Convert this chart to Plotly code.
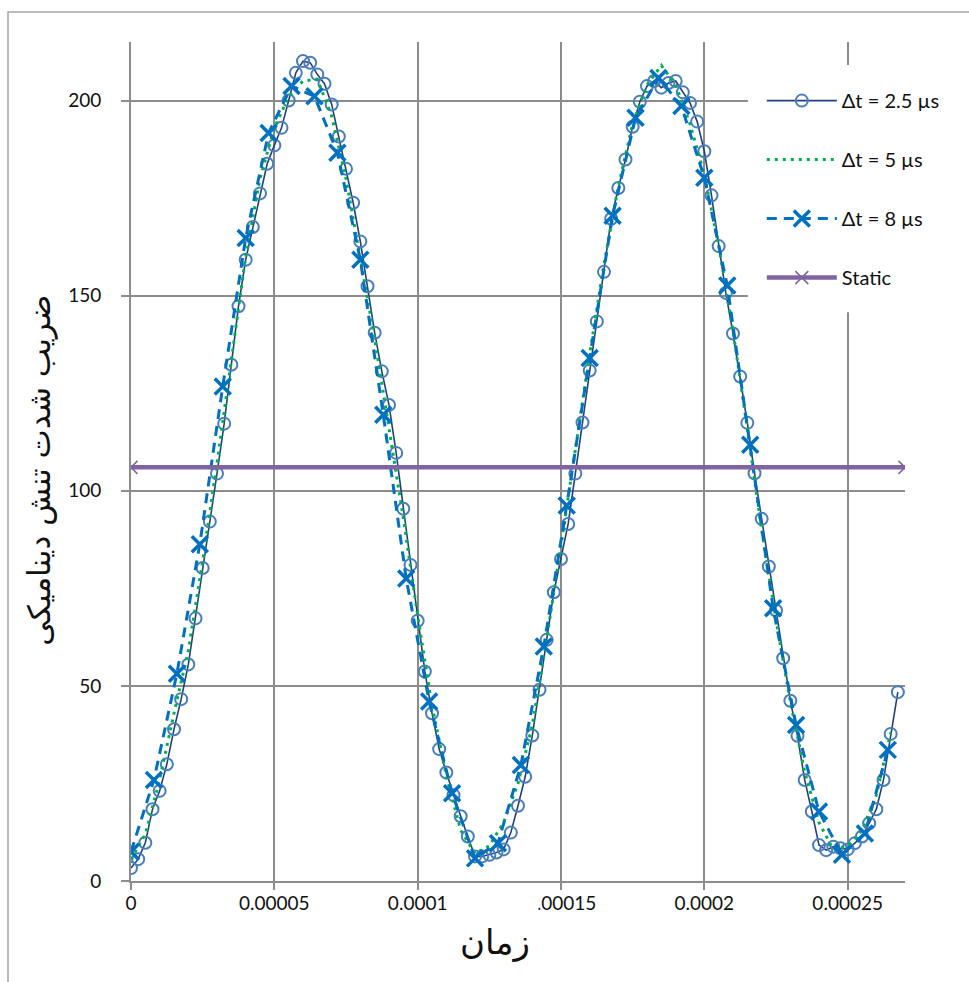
import plotly.graph_objects as go

# time step of each run (seconds)
DT_FINE = 2.5e-6
DT_MID = 5e-6
DT_COARSE = 8e-6

# dynamic stress intensity factor, dt = 2.5 us
k_dt_2_5 = [
    3.3, 5.6, 9.8, 18.4, 23.1, 29.9, 38.9, 46.6, 55.5, 67.3,
    80.2, 92.1, 104.4, 117.2, 132.3, 147.3, 159.2, 167.6, 176.2, 183.8,
    188.5, 193.0, 200.0, 207.1, 210.1, 209.7, 206.7, 204.3, 199.0, 190.8,
    182.5, 173.8, 163.9, 152.4, 140.5, 130.6, 122.0, 109.7, 95.4, 81.0,
    66.7, 53.7, 43.0, 33.8, 27.8, 22.0, 16.6, 11.4, 6.3, 6.3,
    6.7, 7.3, 8.1, 12.4, 19.3, 26.7, 37.3, 49.0, 61.8, 74.0,
    82.5, 91.5, 104.4, 117.5, 130.8, 143.4, 156.1, 169.7, 177.6, 184.9,
    193.3, 199.7, 203.7, 205.0, 203.3, 204.5, 205.0, 202.1, 199.4, 194.6,
    187.0, 175.7, 162.7, 150.7, 140.3, 129.3, 117.4, 104.5, 92.8, 80.6,
    69.3, 57.1, 46.2, 37.2, 25.9, 17.8, 9.2, 7.9, 8.8, 8.4,
    8.1, 9.7, 11.4, 14.8, 18.4, 25.9, 37.7, 48.4,
]

# dt = 5 us
k_dt_5 = [
    5.5, 12.0, 26.0, 43.0, 59.0, 82.0, 107.0, 134.0, 160.0, 180.0,
    193.0, 201.0, 205.0, 205.5, 196.0, 180.0, 160.0, 139.0, 116.0, 93.0,
    68.0, 45.0, 27.0, 13.0, 7.0, 9.0, 15.0, 25.0, 40.0, 62.0,
    86.0, 111.0, 135.0, 158.0, 178.0, 194.0, 204.0, 209.0, 204.0, 194.0,
    181.0, 163.0, 141.0, 116.0, 90.0, 67.0, 46.0, 28.0, 15.0, 8.0,
    9.0, 13.0, 22.0, 38.0,
]

# dt = 8 us
k_dt_8 = [
    7.5, 25.9, 53.1, 86.3, 126.7, 164.8, 191.7, 203.7, 201.1, 186.6,
    159.2, 119.5, 77.5, 46.0, 22.5, 5.8, 9.7, 29.7, 60.1, 96.2,
    134.0, 170.5, 195.6, 205.8, 198.6, 180.2, 152.6, 111.8, 69.9, 40.0,
    17.8, 6.7, 12.2, 33.6,
]

# static solution
static_t = [0.0, 0.00027]
static_k = [106.0, 106.0]

t_2_5 = [i * DT_FINE for i in range(len(k_dt_2_5))]
t_5 = [i * DT_MID for i in range(len(k_dt_5))]
t_8 = [i * DT_COARSE for i in range(len(k_dt_8))]

x_ticks = [0, 0.00005, 0.0001, 0.00015, 0.0002, 0.00025]
x_tick_text = ["0", "0.00005", "0.0001", "0.00015", "0.0002", "0.00025"]
y_ticks = [0, 50, 100, 150, 200]

series_names = ["Δt = 2.5 µs", "Δt = 5 µs", "Δt = 8 µs", "Static"]
x_title = "زمان"
y_title = "ضریب شدت تنش دینامیکی"

GRID = "#8c8c8c"
FONT = "Lato, 'Open Sans', sans-serif"
AR_FONT = "'DejaVu Sans', sans-serif"

fig = go.Figure()

fig.add_trace(go.Scatter(
    x=t_2_5, y=k_dt_2_5, name=series_names[0], legendgroup="a",
    mode="lines+markers",
    line=dict(color="#22407a", width=1.6),
    marker=dict(symbol="circle-open", size=12, color="#4a7ebb",
                line=dict(width=2, color="#4a7ebb")),
))
fig.add_trace(go.Scatter(
    x=t_5, y=k_dt_5, name=series_names[1], legendgroup="b",
    mode="lines",
    line=dict(color="#00b050", width=3, dash="3px,5px"),
))
fig.add_trace(go.Scatter(
    x=t_8, y=k_dt_8, name=series_names[2], legendgroup="c",
    mode="lines+markers",
    line=dict(color="#0070c0", width=3, dash="10px,7px"),
    marker=dict(symbol="x-thin", size=16, color="#0070c0",
                line=dict(width=3.5, color="#0070c0")),
))
fig.add_trace(go.Scatter(
    x=static_t, y=static_k, name=series_names[3], legendgroup="d",
    mode="lines+markers",
    line=dict(color="#8064a2", width=4.5),
    marker=dict(symbol="x-thin", size=13, color="#8064a2",
                line=dict(width=1.5, color="#8064a2")),
))

fig.update_xaxes(
    range=[0, 0.00027], tickvals=x_ticks, ticktext=x_tick_text,
    showgrid=True, gridcolor=GRID, gridwidth=1.5,
    showline=True, linecolor=GRID, linewidth=2,
    ticks="outside", ticklen=7, tickcolor=GRID, tickwidth=1.5,
    ticklabelstandoff=-3,
    zeroline=False, tickfont=dict(family=FONT, size=19, color="#111"),
)
fig.update_yaxes(
    range=[0, 215], tickvals=y_ticks,
    showgrid=True, gridcolor=GRID, gridwidth=1.5,
    showline=True, linecolor=GRID, linewidth=2,
    ticks="outside", ticklen=8, tickcolor=GRID, tickwidth=1.5,
    ticklabelstandoff=16,
    zeroline=False, tickfont=dict(family=FONT, size=19, color="#111"),
)

fig.update_layout(
    width=969, height=982,
    margin=dict(l=131, r=64, t=42, b=101),
    paper_bgcolor="white", plot_bgcolor="white",
    showlegend=True,
    legend=dict(
        x=0.815, y=0.9534, xanchor="left", yanchor="top",
        bgcolor="rgba(0,0,0,0)", borderwidth=0,
        font=dict(family=FONT, size=20, color="#111"),
        itemwidth=70, tracegroupgap=30,
    ),
    shapes=[
        # chart-area border
        dict(type="rect", xref="paper", yref="paper",
             x0=-0.1589, x1=1.11, y0=-0.14, y1=1.0358,
             line=dict(color="#a6a6a6", width=1.5),
             fillcolor="rgba(0,0,0,0)", layer="below"),
        # legend backing box
        dict(type="rect", xref="paper", yref="paper",
             x0=0.797, x1=1.0775, y0=0.678, y1=0.9726,
             line=dict(width=0), fillcolor="white", layer="above"),
    ],
    annotations=[
        dict(text=x_title, xref="paper", yref="paper", x=0.4703, y=-0.073,
             xanchor="center", yanchor="middle", showarrow=False,
             font=dict(family=AR_FONT, size=34, color="#111"),
             bgcolor="white", width=84, height=100),
        dict(text=y_title, xref="paper", yref="paper", x=-0.1176, y=0.49,
             xanchor="center", yanchor="middle",
             textangle=-90, showarrow=False,
             font=dict(family=AR_FONT, size=31, color="#111")),
    ],
)

fig.write_html("out.html")
